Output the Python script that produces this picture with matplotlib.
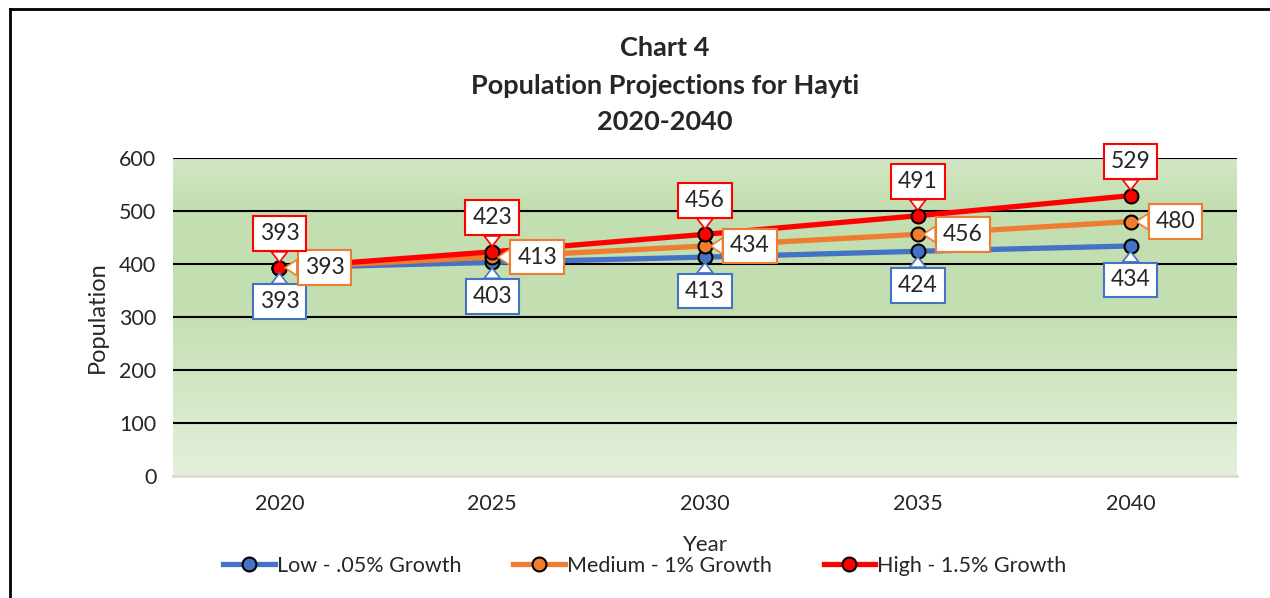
import numpy as np
import matplotlib.pyplot as plt
from matplotlib.colors import LinearSegmentedColormap
from matplotlib.lines import Line2D

plt.rcParams['font.family'] = ['Lato', 'DejaVu Sans']

# data
years = [2020, 2025, 2030, 2035, 2040]
low = [393, 403, 413, 424, 434]
medium = [393, 413, 434, 456, 480]
high = [393, 423, 456, 491, 529]
labels = ['Low - .05% Growth', 'Medium - 1% Growth', 'High - 1.5% Growth']
yticks = [0, 100, 200, 300, 400, 500, 600]

blue = '#4472c4'
orange = '#ed7d31'
red = '#ff0000'
txt = '#262626'

fig = plt.figure(figsize=(12.7, 5.98), dpi=100)
ax = fig.add_axes([173/1270, 1 - 476/598, (1237 - 173)/1270, (476 - 158)/598])

# gradient background of the plot area
cmap = LinearSegmentedColormap.from_list('bg', [(0, '#e3f0db'), (0.55, '#c3deb0'), (0.85, '#c3deb0'), (1, '#d2e7c5')])
grad = np.linspace(0, 1, 256).reshape(-1, 1)
ax.imshow(grad, aspect='auto', cmap=cmap, origin='lower',
          extent=[2017.5, 2042.5, 0, 600], zorder=0)

ax.set_xlim(2017.5, 2042.5)
ax.set_ylim(0, 600)
ax.set_xticks(years)
ax.set_yticks(yticks)
for y in yticks[1:]:
    ax.axhline(y, color='black', lw=1.5, zorder=1)
for s in ['top', 'right', 'left']:
    ax.spines[s].set_visible(False)
ax.spines['bottom'].set_color('#d9d9d9')
ax.spines['bottom'].set_linewidth(2)
ax.tick_params(length=0, labelsize=15.5, colors=txt, pad=12)
ax.tick_params(axis='x', pad=13)

series = [(low, blue, (0, -34)), (medium, orange, (45, 0)), (high, red, (0, 34))]
for (vals, col, off), lab in zip(series, labels):
    ax.plot(years, vals, color=col, lw=3.8, marker='o', markersize=10,
            markerfacecolor=col, markeredgecolor='black', markeredgewidth=1.5,
            label=lab, zorder=3)
for (vals, col, off) in series:
    for x, v in zip(years, vals):
        ax.annotate(str(v), (x, v), xytext=off, textcoords='offset pixels',
                    ha='center', va='center', fontsize=16.5, color=txt,
                    bbox=dict(boxstyle='square,pad=0.3', fc='white', ec=col, lw=1.5),
                    arrowprops=dict(arrowstyle='wedge,tail_width=0.7', fc='white', ec=col,
                                    lw=1.2, shrinkA=0, shrinkB=4),
                    zorder=4)

ax.set_ylabel('Population', fontsize=17, color=txt, labelpad=8)
fig.text(705/1270, 1 - 545/598, 'Year', ha='center', va='center', fontsize=16, color=txt)

fig.text(665/1270, 1 - 48/598, 'Chart 4', ha='center', va='center', fontsize=19.5, fontweight='bold', color=txt)
fig.text(665/1270, 1 - 86/598, 'Population Projections for Hayti', ha='center', va='center', fontsize=19.5, fontweight='bold', color=txt)
fig.text(665/1270, 1 - 122/598, '2020-2040', ha='center', va='center', fontsize=19.5, fontweight='bold', color=txt)

fig.legend(loc='center', bbox_to_anchor=(645/1270, 1 - 566/598), ncol=3, frameon=False,
           fontsize=15.5, handlelength=2.4, handletextpad=0.1, columnspacing=2.4,
           labelcolor=txt)

# outer border of the chart
fig.add_artist(Line2D([10/1270, 10/1270], [0, 1 - 9/598], color='black', lw=2, transform=fig.transFigure))
fig.add_artist(Line2D([10/1270, 1], [1 - 9/598, 1 - 9/598], color='black', lw=2, transform=fig.transFigure))

fig.savefig('out.png', dpi=100)
